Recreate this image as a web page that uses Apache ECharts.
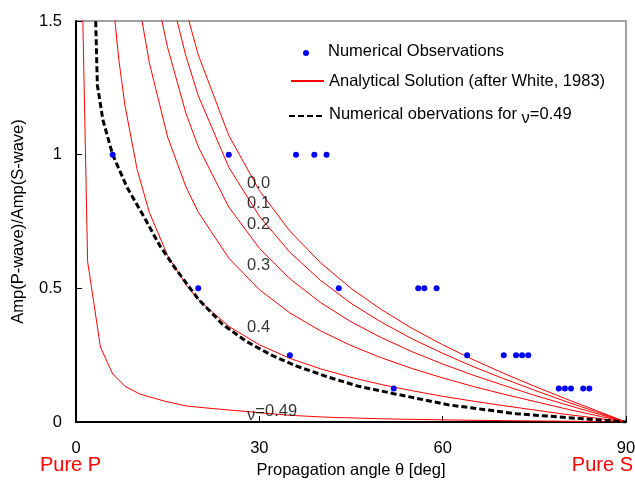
<!DOCTYPE html>
<html>
<head>
<meta charset="utf-8">
<script src="https://cdn.jsdelivr.net/npm/echarts@6/dist/echarts.min.js"></script>
<style>html,body{margin:0;padding:0;background:#fff}#c{width:635px;height:482px}</style>
</head>
<body>
<div id="c"></div>
<script>
// ---- data ----
const xTicks = [0, 30, 60, 90];
const yTicks = [0, 0.5, 1, 1.5];
const xEndLabels = ['Pure P', 'Pure S'];

// numerical observations [angle deg, amplitude ratio]
const obsAngle = [6, 25, 36, 39, 41, 20, 43, 56, 57, 59, 35, 64, 70, 72, 73, 74, 52, 79, 80, 81, 83, 84];
const obsRatio = [1, 1, 1, 1, 1, 0.5, 0.5, 0.5, 0.5, 0.5, 0.25, 0.25, 0.25, 0.25, 0.25, 0.25, 0.125, 0.125, 0.125, 0.125, 0.125, 0.125];

// analytical curves (after White, 1983), one per Poisson ratio
const nu00 = [[18, 1.54], [20, 1.374], [25, 1.072], [30, 0.866], [35, 0.714], [40, 0.596], [45, 0.5], [50, 0.42], [55, 0.35], [60, 0.289], [65, 0.233], [70, 0.182], [75, 0.134], [80, 0.088], [85, 0.044], [90, 0]];
const nu01 = [[16, 1.549], [18, 1.368], [20, 1.221], [25, 0.953], [30, 0.77], [35, 0.635], [40, 0.53], [45, 0.444], [50, 0.373], [55, 0.311], [60, 0.257], [65, 0.207], [70, 0.162], [75, 0.119], [80, 0.078], [85, 0.039], [90, 0]];
const nu02 = [[13.5, 1.56], [15, 1.4], [18, 1.154], [20, 1.03], [25, 0.804], [30, 0.65], [35, 0.536], [40, 0.447], [45, 0.375], [50, 0.315], [55, 0.263], [60, 0.217], [65, 0.175], [70, 0.137], [75, 0.1], [80, 0.066], [85, 0.033], [90, 0]];
const nu03 = [[10.5, 1.54], [12, 1.344], [15, 1.066], [18, 0.879], [20, 0.785], [25, 0.613], [30, 0.495], [35, 0.408], [40, 0.341], [45, 0.286], [50, 0.24], [55, 0.2], [60, 0.165], [65, 0.133], [70, 0.104], [75, 0.077], [80, 0.05], [85, 0.025], [90, 0]];
const nu04 = [[6, 1.586], [7, 1.357], [8, 1.186], [10, 0.945], [12, 0.784], [15, 0.622], [18, 0.513], [20, 0.458], [25, 0.358], [30, 0.289], [35, 0.238], [40, 0.199], [45, 0.167], [50, 0.14], [55, 0.117], [60, 0.096], [65, 0.078], [70, 0.061], [75, 0.045], [80, 0.029], [85, 0.015], [90, 0]];
const nu049 = [[0.95, 1.7], [1.9, 0.6], [4, 0.28], [6, 0.18], [8, 0.134], [10.5, 0.104], [14.5, 0.078], [18, 0.06], [22.5, 0.05], [29, 0.037], [35, 0.025], [41, 0.018], [50, 0.012], [60, 0.008], [70, 0.005], [80, 0.003], [90, 0]];

// numerical observations for nu = 0.49 (dashed)
const numNu049 = [[3.1, 1.6], [3.5, 1.26], [4.4, 1.13], [6, 1.0], [8.3, 0.88], [11.3, 0.76], [13.7, 0.66], [16.4, 0.57], [20, 0.46], [24, 0.365], [28, 0.3], [32, 0.25], [36, 0.21], [41, 0.17], [46, 0.135], [52, 0.106], [61, 0.064], [72, 0.031], [83, 0.012], [90, 0]];

// curve labels and the point each label starts at
const curveLabels = ['0.0', '0.1', '0.2', '0.3', '0.4', 'ν=0.49'];
const curveLabelAt = [[28, 0.893], [28, 0.816], [28, 0.74], [28, 0.584], [28, 0.352], [28, 0.034]];

const seriesNames = ['Numerical Observations', 'Analytical Solution (after White, 1983)', 'Numerical obervations for ν=0.49'];

// ---- chart ----
const FONT = 'Liberation Sans, Arial, sans-serif';
const FS = 16.5;
const chart = echarts.init(document.getElementById('c'), null, {renderer: 'canvas'});

const redCurves = [nu00, nu01, nu02, nu03, nu04, nu049].map(d => ({
  name: seriesNames[1], type: 'line', data: d, symbol: 'none', clip: true, z: 2,
  lineStyle: {color: '#ff0000', width: 1}, itemStyle: {color: '#ff0000'}
}));

const legendText = {fontFamily: FONT, fontSize: FS, color: '#000', lineHeight: 20};
const nuRich = {
  a: {fontFamily: FONT, fontSize: FS, color: '#000', lineHeight: 20, verticalAlign: 'top'},
  b: {fontFamily: FONT, fontSize: FS, color: '#000', lineHeight: 20, verticalAlign: 'top', padding: [4, 0, 0, 0]},
  s: {width: 14, lineHeight: 20}
};

chart.setOption({
  animation: false,
  backgroundColor: '#fff',
  grid: {left: 76, right: 9, top: 21, bottom: 60, outerBoundsMode: 'none', containLabel: false,
         show: true, borderColor: '#a0a0a0', borderWidth: 2, backgroundColor: 'transparent'},
  xAxis: {
    type: 'value', min: xTicks[0], max: xTicks[xTicks.length - 1], interval: 30,
    name: 'Propagation angle θ [deg]', nameLocation: 'middle', nameGap: 40,
    nameTextStyle: {fontFamily: FONT, fontSize: FS, color: '#000'},
    axisLine: {show: true, onZero: false, lineStyle: {color: '#000', width: 2}},
    axisTick: {show: true, inside: true, length: 6, lineStyle: {color: '#000', width: 1}},
    axisLabel: {fontFamily: FONT, fontSize: FS, color: '#000', margin: 18},
    splitLine: {show: false}
  },
  yAxis: {
    type: 'value', min: yTicks[0], max: yTicks[yTicks.length - 1], interval: 0.5,
    name: 'Amp(P-wave)/Amp(S-wave)', nameLocation: 'middle', nameGap: 49,
    nameTextStyle: {fontFamily: FONT, fontSize: FS, color: '#000'},
    axisLine: {show: true, onZero: false, lineStyle: {color: '#000', width: 2}},
    axisTick: {show: true, inside: true, length: 6, lineStyle: {color: '#000', width: 1}},
    axisLabel: {fontFamily: FONT, fontSize: FS, color: '#000', margin: 14},
    splitLine: {show: false}
  },
  legend: [
    {left: 298, top: 38, itemWidth: 6, itemHeight: 6, selectedMode: false,
     data: [{name: seriesNames[0], icon: 'circle', itemStyle: {color: '#0000ff', opacity: 1}}],
     formatter: n => '{s|}{a|' + n + '}',
     textStyle: Object.assign({}, legendText, {rich: nuRich})},
    {left: 285, top: 66, itemWidth: 33, itemHeight: 14, selectedMode: false,
     data: [{name: seriesNames[1], itemStyle: {opacity: 0}}], textStyle: legendText},
    {left: 283, top: 101, itemWidth: 35, itemHeight: 14, selectedMode: false,
     data: [{name: seriesNames[2], itemStyle: {opacity: 0}}],
     formatter: () => '{a|Numerical obervations for }{b|ν}{a|=0.49}',
     textStyle: {fontFamily: FONT, fontSize: FS, color: '#000', rich: nuRich}}
  ],
  graphic: [
    {type: 'text', left: 40, top: 455, style: {text: xEndLabels[0], fill: '#ff0000', font: '20px ' + FONT}},
    {type: 'text', right: 2, top: 455, style: {text: xEndLabels[1], fill: '#ff0000', font: '20px ' + FONT}}
  ],
  series: [
    ...redCurves,
    {name: seriesNames[2], type: 'line', data: numNu049, symbol: 'none', clip: true, z: 3,
     lineStyle: {color: '#000', width: 3, type: [6, 3]}, itemStyle: {color: '#000'}},
    {name: seriesNames[0], type: 'scatter', z: 4, symbol: 'circle', symbolSize: 6,
     itemStyle: {color: '#0000ff', opacity: 1},
     data: obsAngle.map((a, i) => [a, obsRatio[i]])},
    {name: 'curveLabels', type: 'scatter', z: 5, symbolSize: 0.01, silent: true,
     data: curveLabels.map((t, i) => ({name: t, value: curveLabelAt[i]})),
     label: {show: true, position: 'right', distance: 0, color: '#000', fontFamily: FONT, fontSize: FS,
       formatter: p => p.name.startsWith('ν') ? '{b|ν}{a|' + p.name.slice(1) + '}' : p.name,
       rich: nuRich}}
  ]
});
</script>
</body>
</html>
